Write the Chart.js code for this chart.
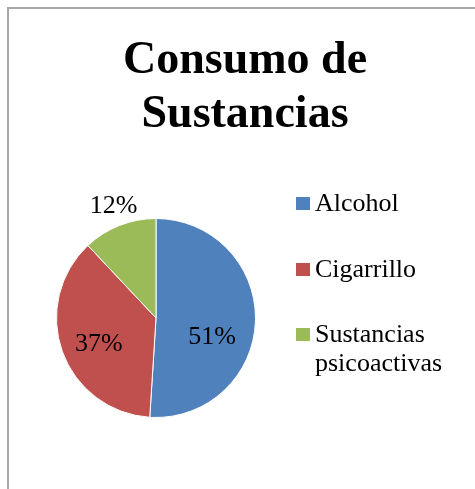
<!DOCTYPE html>
<html>
<head>
<meta charset="utf-8">
<script src="https://cdn.jsdelivr.net/npm/chart.js@4"></script>
<style>
  html, body { margin: 0; padding: 0; background: #fff; }
  canvas { display: block; }
</style>
</head>
<body>
<canvas id="c" width="475" height="489"></canvas>
<script>
// ---- data ----
const categories = ["Alcohol", "Cigarrillo", "Sustancias psicoactivas"];
const values = [51, 37, 12];
const pctLabels = ["51%", "37%", "12%"];
const legendLines = [["Alcohol"], ["Cigarrillo"], ["Sustancias", "psicoactivas"]];
const titleLines = ["Consumo de", "Sustancias"];
const colors = ["#4F81BD", "#C0504D", "#9BBB59"];

// label placement (radial fraction + pixel nudge) per slice
const labelPlacement = [
  { f: 0.565, dx: 0, dy: 17 },
  { f: 0.611, dx: 0, dy: 6 },
  { f: 1.155, dx: 0, dy: -5 }
];

const SERIF = "'Liberation Serif', 'Times New Roman', serif";

const framePlugin = {
  id: 'frame',
  beforeDraw(chart) {
    const ctx = chart.ctx;
    ctx.save();
    ctx.fillStyle = '#fff';
    ctx.fillRect(0, 0, chart.width, chart.height);
    ctx.fillStyle = '#a6a6a6';
    ctx.fillRect(7, 7, chart.width - 7, 2);
    ctx.fillRect(7, 7, 2, chart.height - 7);
    ctx.restore();
  }
};

const titlePlugin = {
  id: 'customTitle',
  afterDraw(chart) {
    const ctx = chart.ctx;
    ctx.save();
    ctx.fillStyle = '#000';
    ctx.font = "bold 46px " + SERIF;
    ctx.textAlign = 'center';
    ctx.textBaseline = 'alphabetic';
    const baselines = [73, 127];
    titleLines.forEach((t, i) => ctx.fillText(t, 245, baselines[i]));
    ctx.restore();
  }
};

const legendPlugin = {
  id: 'customLegend',
  afterDraw(chart) {
    const ctx = chart.ctx;
    ctx.save();
    ctx.font = "26px " + SERIF;
    ctx.textAlign = 'left';
    ctx.textBaseline = 'alphabetic';
    const firstBaselines = [211, 277, 342];
    legendLines.forEach((lines, i) => {
      const b = firstBaselines[i];
      ctx.fillStyle = colors[i];
      ctx.fillRect(296, b - 14, 14, 13);
      ctx.fillStyle = '#000';
      lines.forEach((ln, j) => ctx.fillText(ln, 315, b + j * 29));
    });
    ctx.restore();
  }
};

const labelPlugin = {
  id: 'pctLabels',
  afterDatasetsDraw(chart) {
    const ctx = chart.ctx;
    const meta = chart.getDatasetMeta(0);
    ctx.save();
    ctx.font = "26px " + SERIF;
    ctx.fillStyle = '#000';
    ctx.textAlign = 'center';
    ctx.textBaseline = 'middle';
    meta.data.forEach((arc, i) => {
      const p = arc.getProps(['x', 'y', 'startAngle', 'endAngle', 'outerRadius'], true);
      const mid = (p.startAngle + p.endAngle) / 2;
      const lp = labelPlacement[i];
      const x = p.x + Math.cos(mid) * p.outerRadius * lp.f + lp.dx;
      const y = p.y + Math.sin(mid) * p.outerRadius * lp.f + lp.dy;
      ctx.fillText(pctLabels[i], x, y);
    });
    ctx.restore();
  }
};

new Chart(document.getElementById('c'), {
  type: 'pie',
  data: {
    labels: categories,
    datasets: [{
      data: values,
      backgroundColor: colors,
      borderColor: '#ffffff',
      borderWidth: 1,
      hoverOffset: 0,
      offset: 0
    }]
  },
  options: {
    responsive: false,
    devicePixelRatio: 1,
    animation: false,
    events: [],
    layout: { padding: { left: 56, right: 219, top: 218, bottom: 71 } },
    plugins: {
      legend: { display: false },
      title: { display: false },
      tooltip: { enabled: false }
    }
  },
  plugins: [framePlugin, labelPlugin, titlePlugin, legendPlugin]
});
</script>
</body>
</html>
